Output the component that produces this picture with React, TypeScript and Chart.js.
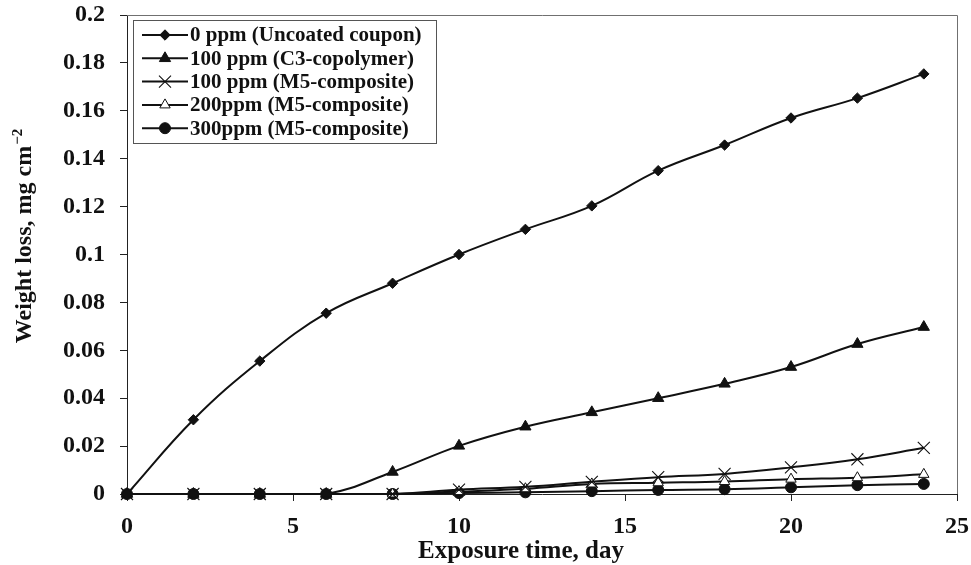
import React, { useEffect, useRef } from 'react';
import { Chart, registerables } from 'chart.js';

Chart.register(...registerables);

// ---- data ----
const days = [0, 2, 4, 6, 8, 10, 12, 14, 16, 18, 20, 22, 24];
const seriesLabels = [
  '0 ppm (Uncoated coupon)',
  '100 ppm (C3-copolymer)',
  '100 ppm (M5-composite)',
  '200ppm (M5-composite)',
  '300ppm (M5-composite)',
];
const uncoated = [0, 0.031, 0.0555, 0.0755, 0.088, 0.1, 0.1105, 0.1203, 0.135, 0.1457, 0.157, 0.1653, 0.1754];
const c3_100 = [0, 0, 0, 0, 0.0092, 0.0201, 0.0281, 0.0341, 0.040, 0.046, 0.053, 0.0626, 0.0697];
const m5_100 = [0, 0, 0, 0, 0, 0.0018, 0.003, 0.0051, 0.007, 0.0084, 0.0111, 0.0145, 0.0193];
const m5_200 = [0, 0, 0, 0, 0, 0.001, 0.0022, 0.0042, 0.0047, 0.0052, 0.0062, 0.0068, 0.0082];
const m5_300 = [0, 0, 0, 0, 0, 0.0004, 0.0007, 0.0012, 0.0017, 0.002, 0.0028, 0.0037, 0.0042];
const xTicks = { min: 0, max: 25, step: 5 };
const yTicks = { min: 0, max: 0.2, step: 0.02 };
const xTitle = 'Exposure time, day';
const yTitle = 'Weight loss, mg cm';
const yTitleSup = '\u22122';

const FONT = "'Liberation Serif', 'Times New Roman', serif";
const INK = '#111';

function drawMarker(ctx: CanvasRenderingContext2D, style: string, x: number, y: number, r: number, fill: string, stroke: string, bw: number) {
  ctx.save();
  ctx.beginPath();
  if (style === 'rectRot') {
    ctx.moveTo(x - r, y);
    ctx.lineTo(x, y - r);
    ctx.lineTo(x + r, y);
    ctx.lineTo(x, y + r);
    ctx.closePath();
  } else if (style === 'triangle') {
    let rad = 0;
    ctx.moveTo(x + Math.sin(rad) * r, y - Math.cos(rad) * r);
    rad += (2 * Math.PI) / 3;
    ctx.lineTo(x + Math.sin(rad) * r, y - Math.cos(rad) * r);
    rad += (2 * Math.PI) / 3;
    ctx.lineTo(x + Math.sin(rad) * r, y - Math.cos(rad) * r);
    ctx.closePath();
  } else if (style === 'crossRot') {
    const o = Math.cos(Math.PI / 4) * r;
    ctx.moveTo(x - o, y - o);
    ctx.lineTo(x + o, y + o);
    ctx.moveTo(x + o, y - o);
    ctx.lineTo(x - o, y + o);
  } else {
    ctx.arc(x, y, r, 0, Math.PI * 2);
  }
  if (style !== 'crossRot') {
    ctx.fillStyle = fill;
    ctx.fill();
  }
  ctx.lineWidth = bw;
  ctx.strokeStyle = stroke;
  ctx.stroke();
  ctx.restore();
}

const decorPlugin = {
  id: 'decor',
  beforeDatasetsDraw(chart: any) {
    const { ctx, chartArea: a } = chart;
    ctx.save();
    ctx.strokeStyle = '#707070';
    ctx.lineWidth = 1;
    ctx.beginPath();
    ctx.moveTo(a.left, Math.round(a.top) + 0.5);
    ctx.lineTo(Math.round(a.right) + 0.5, Math.round(a.top) + 0.5);
    ctx.lineTo(Math.round(a.right) + 0.5, a.bottom);
    ctx.stroke();
    ctx.restore();
  },
  afterDraw(chart: any) {
    const { ctx, chartArea: a } = chart;
    ctx.save();
    // x title
    ctx.fillStyle = INK;
    ctx.font = `bold 25px ${FONT}`;
    ctx.textAlign = 'center';
    ctx.textBaseline = 'alphabetic';
    ctx.fillText(xTitle, (a.left + a.right) / 2 - 21, 558);
    // y title (rotated, with superscript)
    ctx.translate(31, 236);
    ctx.rotate(-Math.PI / 2);
    ctx.font = `bold 24px ${FONT}`;
    const w1 = ctx.measureText(yTitle).width;
    ctx.font = `bold 15px ${FONT}`;
    const w2 = ctx.measureText(yTitleSup).width;
    const start = -(w1 + w2 + 1) / 2;
    ctx.textAlign = 'left';
    ctx.font = `bold 24px ${FONT}`;
    ctx.fillText(yTitle, start, 0);
    ctx.font = `bold 15px ${FONT}`;
    ctx.fillText(yTitleSup, start + w1 + 1, -9);
    ctx.restore();

    // legend
    const lx = a.left + 6;
    const ly = a.top + 5;
    const bw = 303;
    const bh = 123;
    ctx.save();
    ctx.fillStyle = '#fff';
    ctx.fillRect(lx, ly, bw, bh);
    ctx.strokeStyle = '#555';
    ctx.lineWidth = 1;
    ctx.strokeRect(Math.round(lx) + 0.5, Math.round(ly) + 0.5, bw, bh);
    chart.data.datasets.forEach((ds: any, i: number) => {
      const cy = ly + 15 + i * 23.3;
      ctx.beginPath();
      ctx.strokeStyle = INK;
      ctx.lineWidth = 2;
      ctx.moveTo(lx + 9, cy);
      ctx.lineTo(lx + 55, cy);
      ctx.stroke();
      drawMarker(ctx, ds.pointStyle, lx + 32, cy, ds.pointRadius, ds.pointBackgroundColor, ds.pointBorderColor, ds.pointBorderWidth);
      ctx.fillStyle = INK;
      ctx.font = `bold 21px ${FONT}`;
      ctx.textAlign = 'left';
      ctx.textBaseline = 'middle';
      ctx.fillText(ds.label, lx + 57, cy + 1);
    });
    ctx.restore();
  },
};

const seriesValues = [uncoated, c3_100, m5_100, m5_200, m5_300];
const seriesMarkers = [
  { pointStyle: 'rectRot', pointRadius: 5.2, pointBackgroundColor: INK, pointBorderColor: INK, pointBorderWidth: 1 },
  { pointStyle: 'triangle', pointRadius: 6.5, pointBackgroundColor: INK, pointBorderColor: INK, pointBorderWidth: 1 },
  { pointStyle: 'crossRot', pointRadius: 8.5, pointBackgroundColor: INK, pointBorderColor: INK, pointBorderWidth: 1.1 },
  { pointStyle: 'triangle', pointRadius: 6, pointBackgroundColor: '#fff', pointBorderColor: INK, pointBorderWidth: 1 },
  { pointStyle: 'circle', pointRadius: 5.5, pointBackgroundColor: INK, pointBorderColor: INK, pointBorderWidth: 1 },
];

export default function App() {
  const ref = useRef<HTMLCanvasElement | null>(null);
  useEffect(() => {
    if (!ref.current) return;
    const datasets = seriesLabels.map((label, i) => ({
      label,
      data: days.map((d, j) => ({ x: d, y: seriesValues[i][j] })),
      borderColor: INK,
      borderWidth: 2,
      tension: 0.4,
      fill: false,
      clip: false as any,
      pointHoverRadius: seriesMarkers[i].pointRadius,
      ...seriesMarkers[i],
    }));
    const tickFont = { family: FONT, size: 24, weight: 'bold' as const };
    const chart = new Chart(ref.current, {
      type: 'line',
      data: { datasets },
      options: {
        responsive: false,
        animation: false,
        devicePixelRatio: 1,
        layout: { padding: { top: 15, right: 14, left: 0, bottom: 0 } },
        plugins: { legend: { display: false }, tooltip: { enabled: false } },
        scales: {
          x: {
            type: 'linear',
            min: xTicks.min,
            max: xTicks.max,
            afterFit: (s: any) => { s.height = 71; s.paddingLeft = 0; s.paddingRight = 0; },
            ticks: { stepSize: xTicks.step, font: tickFont, color: INK, padding: 11, maxRotation: 0 },
            grid: { drawOnChartArea: false, drawTicks: true, tickLength: 7, color: '#222' },
            border: { display: true, color: '#222', width: 1 },
          },
          y: {
            type: 'linear',
            min: yTicks.min,
            max: yTicks.max,
            afterFit: (s: any) => { s.width = 127; s.paddingTop = 0; s.paddingBottom = 0; },
            ticks: {
              stepSize: yTicks.step,
              font: tickFont,
              color: INK,
              padding: 15,
              callback: (v: any) => String(+Number(v).toFixed(2)),
            },
            grid: { drawOnChartArea: false, drawTicks: true, tickLength: 7, color: '#222' },
            border: { display: true, color: '#222', width: 1 },
          },
        },
      },
      plugins: [decorPlugin],
    });
    return () => chart.destroy();
  }, []);
  return (
    <div style={{ position: 'absolute', left: 0, top: 0, width: 971, height: 565, background: '#fff' }}>
      <canvas ref={ref} width={971} height={565} style={{ display: 'block' }} />
    </div>
  );
}
